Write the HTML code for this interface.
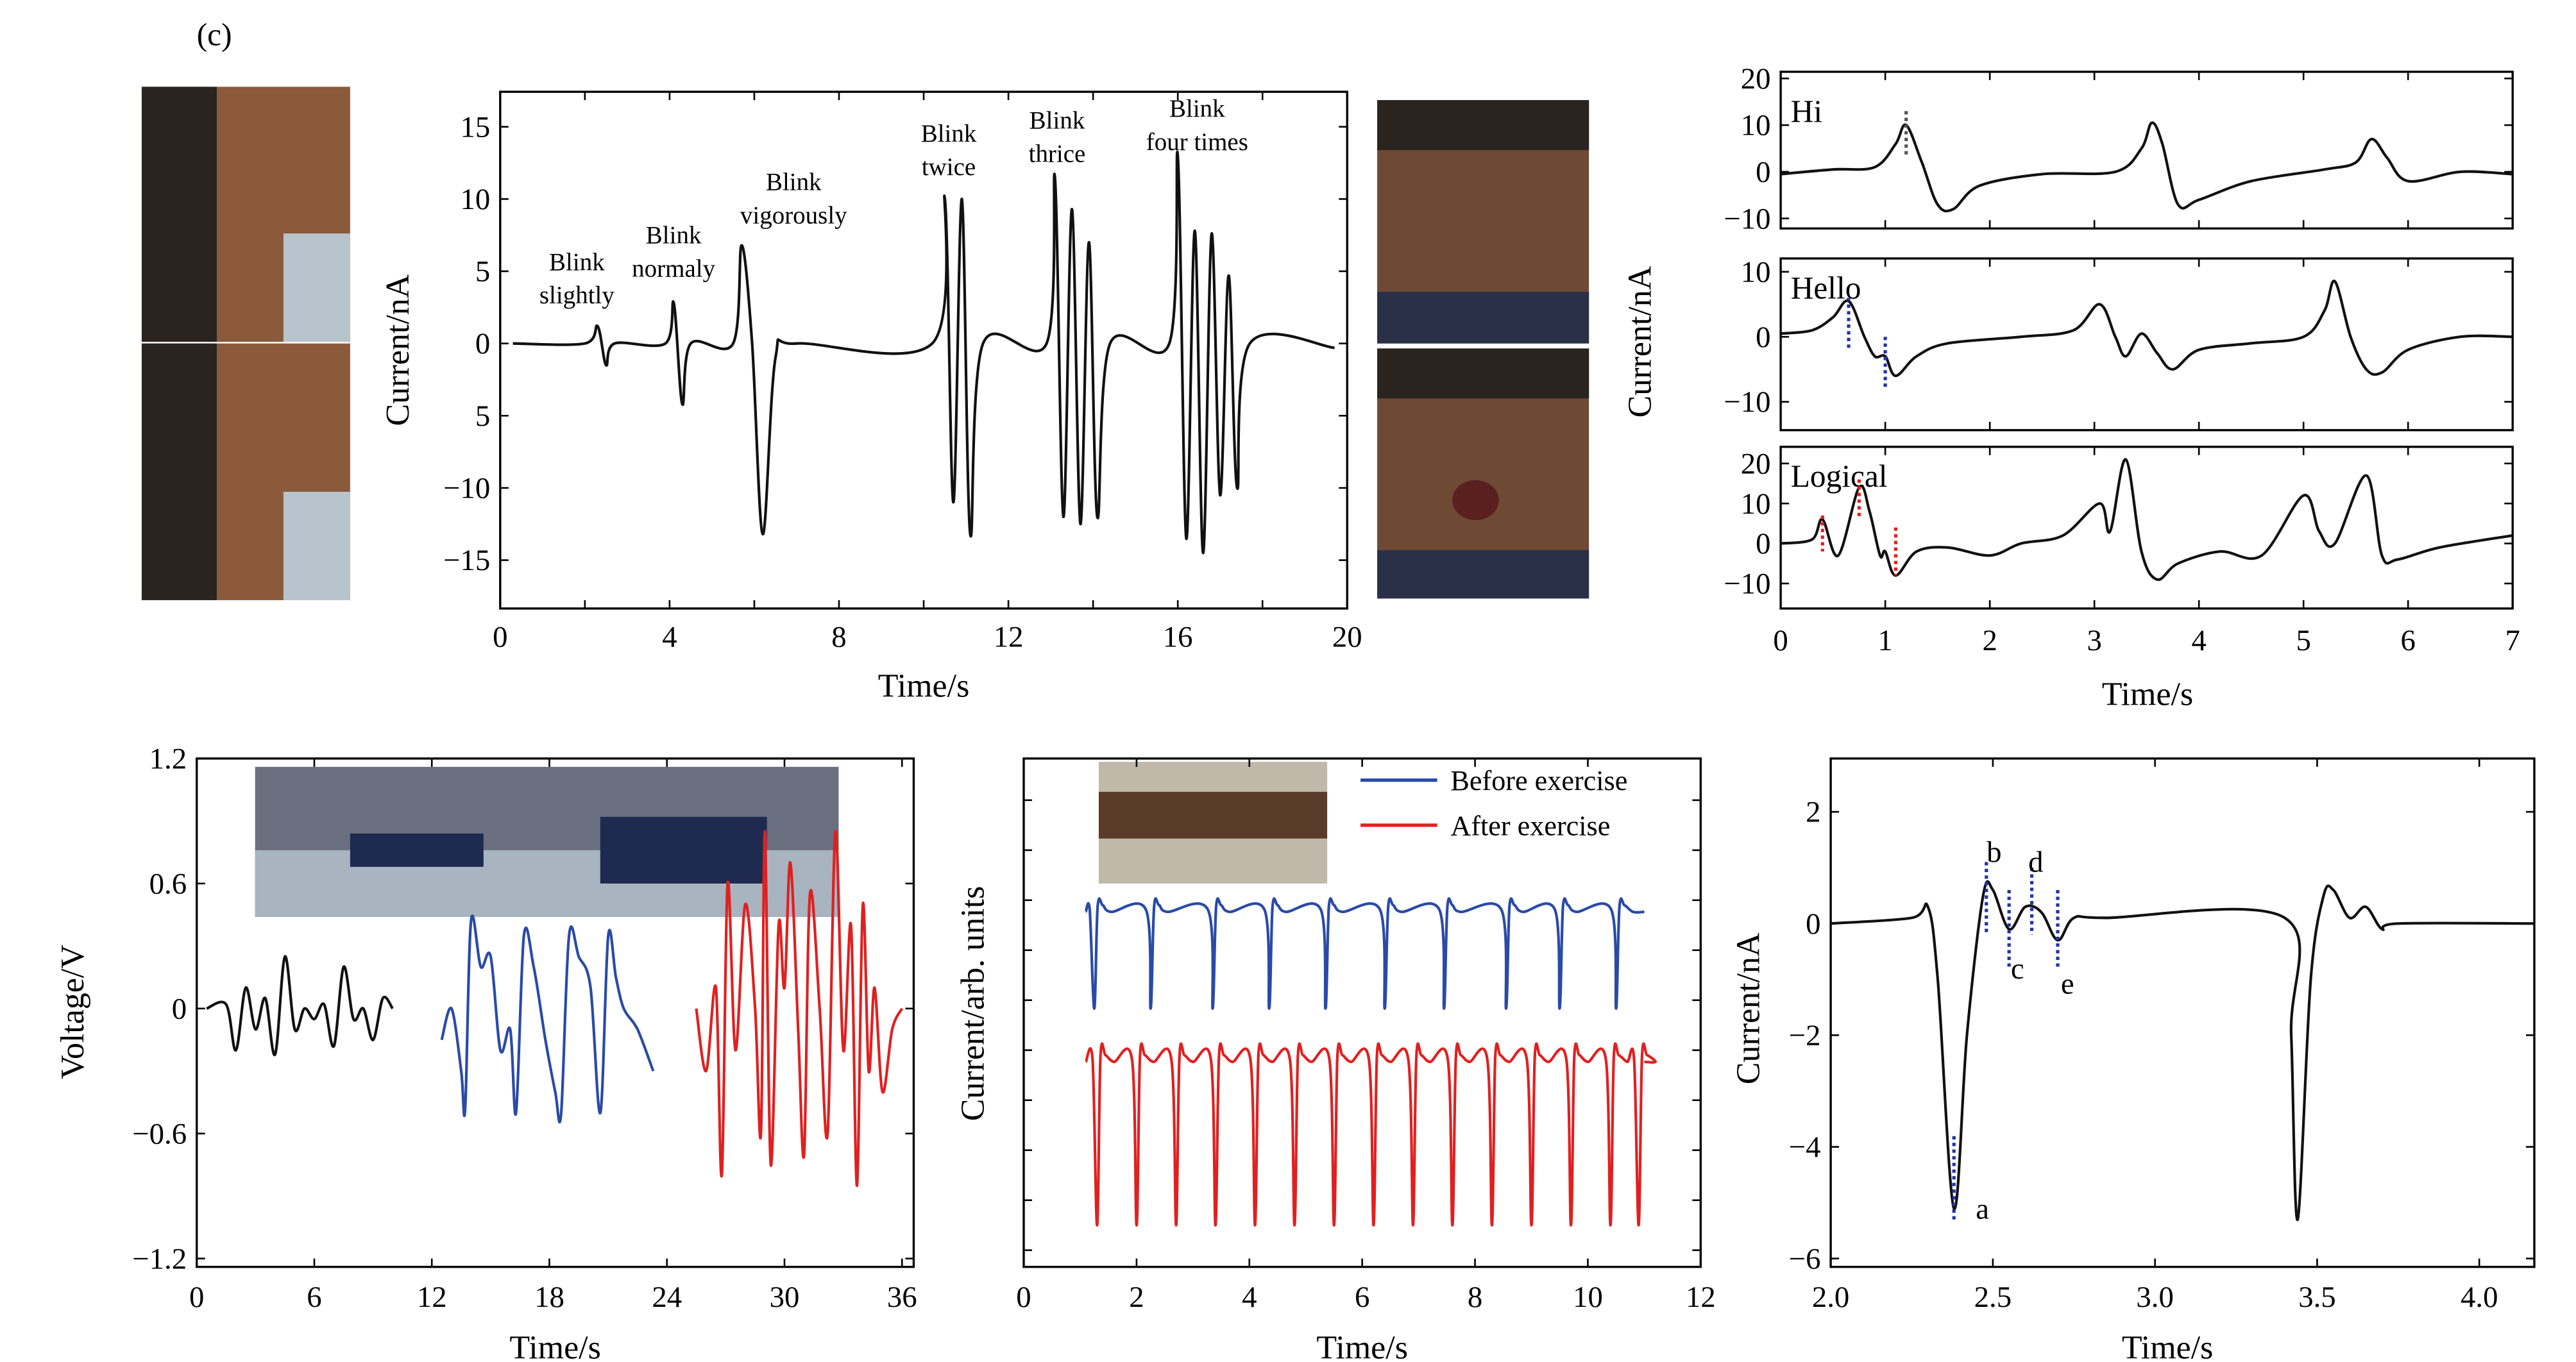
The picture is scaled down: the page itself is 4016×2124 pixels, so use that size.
<!DOCTYPE html>
<html><head><meta charset="utf-8"><style>
html,body{margin:0;padding:0;background:#fff;}
svg{display:block;font-family:"Liberation Serif",serif;}
</style></head><body>
<svg id="fig" width="4016" height="2124" viewBox="0 0 1545 817" xmlns="http://www.w3.org/2000/svg">
<text x="118" y="27" font-size="19">(c)</text>
<g>
<rect x="85" y="52" width="125" height="153" fill="#8a5a3a"/>
<rect x="85" y="52" width="45" height="153" fill="#2a2420"/>
<rect x="170" y="140" width="40" height="65" fill="#b8c4cc"/>
<rect x="85" y="206" width="125" height="154" fill="#8a5a3a"/>
<rect x="85" y="206" width="45" height="154" fill="#2a2420"/>
<rect x="170" y="295" width="40" height="65" fill="#b8c4cc"/>
<rect x="826" y="60" width="127" height="146" fill="#6e4a35"/>
<rect x="826" y="60" width="127" height="30" fill="#2a2420"/>
<rect x="826" y="175" width="127" height="31" fill="#2a3048"/>
<rect x="826" y="209" width="127" height="150" fill="#6e4a35"/>
<rect x="826" y="209" width="127" height="30" fill="#2a2420"/>
<rect x="826" y="330" width="127" height="29" fill="#2a3048"/>
<ellipse cx="885" cy="300" rx="14" ry="12" fill="#5a2020"/>
<rect x="153" y="460" width="350" height="90" fill="#6a6f80"/>
<rect x="153" y="510" width="350" height="40" fill="#a8b4c0"/>
<rect x="210" y="500" width="80" height="20" fill="#1e2a50"/>
<rect x="360" y="490" width="100" height="40" fill="#1e2a50"/>
<rect x="659" y="457" width="137" height="73" fill="#c0b8a8"/>
<rect x="659" y="475" width="137" height="28" fill="#5a3a28"/>
</g>
<g id="charts"></g>
</svg>
<script>
const blinkT=[0.3,2.0,2.3,2.5,2.7,3.9,4.1,4.3,4.5,5.5,5.7,5.95,6.2,6.5,7,10.2,10.5,10.7,10.9,11.1,11.4,12.9,13.1,13.3,13.5,13.7,13.9,14.1,14.4,15.8,16.0,16.2,16.4,16.6,16.8,17.0,17.2,17.4,17.7,19.7];
const blinkV=[0,0,1.2,-1.5,0,0,2.8,-4.2,0,0,6.8,0,-13.2,-1,0,0,10,-11,10,-13.2,0,0,11.5,-12,9.3,-12.5,7,-12,0,0,13,-13.5,7.8,-14.5,7.6,-10.5,4.7,-10,0,-0.3];
const blinkLabels=[["Blink",346,162],["slightly",346,182],["Blink",404,146],["normaly",404,166],["Blink",476,114],["vigorously",476,134],["Blink",569,85],["twice",569,105],["Blink",634,77],["thrice",634,97],["Blink",718,70],["four times",718,90]];
const hiT=[0,0.5,0.9,1.1,1.2,1.35,1.5,1.65,1.9,2.5,3.2,3.45,3.55,3.65,3.8,4.0,4.5,5.2,5.5,5.65,5.8,6.0,6.5,7];
const hiV=[-0.5,0.5,1,6,10,2,-7,-8,-3,-0.5,0,5,10.5,6,-7,-6,-2,0.5,2,7,3,-2,0,-0.5];
const helloT=[0,0.3,0.5,0.65,0.8,0.9,1.0,1.1,1.3,1.6,2.3,2.8,3.05,3.2,3.3,3.45,3.6,3.75,4.0,4.5,5.0,5.2,5.3,5.45,5.6,5.75,6.0,6.5,7];
const helloV=[0.5,1,3,5.5,0,-3,-3,-6,-3,-1,0,1,5,0,-3,0.5,-2.5,-5,-2,-1,0,4,8.5,0,-5,-5.5,-2,0,0];
const logT=[0,0.3,0.4,0.55,0.75,0.85,0.95,1.0,1.1,1.3,1.6,2.0,2.3,2.7,3.05,3.15,3.3,3.45,3.6,3.8,4.2,4.6,5.0,5.15,5.3,5.6,5.75,5.9,6.3,7];
const logV=[0,1,6,-3,14,8,-3,-2,-8,-2,-1,-3,0,2,10,3,21,-2,-9,-5,-2,-3,12,3,0,17,-3,-4,-1,2];
const armBlackT=[0.5,1.5,2,2.5,3,3.5,4,4.5,5,5.5,6,6.5,7,7.5,8,8.5,9,9.5,10];
const armBlackV=[0,0.02,-0.2,0.1,-0.1,0.05,-0.22,0.25,-0.1,0,-0.05,0.02,-0.18,0.2,-0.05,0,-0.15,0.05,0];
const armBlueT=[12.5,13,13.5,13.7,14,14.5,15,15.5,16,16.3,16.7,17.2,17.8,18.3,18.6,19,19.5,20.1,20.6,21,21.4,21.8,22.5,23.3];
const armBlueV=[-0.15,0,-0.3,-0.48,0.42,0.2,0.25,-0.2,-0.1,-0.5,0.35,0.2,-0.15,-0.4,-0.5,0.35,0.25,0.1,-0.5,0.35,0.15,0.0,-0.1,-0.3];
const armRedT=[25.5,26,26.5,26.8,27.1,27.5,28,28.5,28.8,29,29.3,29.7,30,30.3,30.7,31,31.3,31.8,32.2,32.6,33,33.4,33.7,34,34.3,34.6,35,35.5,36];
const armRedV=[0,-0.3,0.1,-0.8,0.6,-0.2,0.5,0,-0.6,0.85,-0.75,0.4,0.1,0.7,-0.1,-0.7,0.55,0,-0.6,0.85,-0.2,0.4,-0.85,0.5,-0.3,0.1,-0.4,-0.1,0];
const beforeSpikes=[1.25,2.25,3.35,4.35,5.35,6.4,7.45,8.55,9.5,10.5];
const afterSpikes=[1.3,2.0,2.7,3.4,4.1,4.8,5.5,6.2,6.9,7.6,8.3,9.0,9.7,10.4,10.9];
const ecgT=[2.0,2.25,2.3,2.33,2.38,2.42,2.47,2.5,2.55,2.6,2.65,2.7,2.75,2.85,3.4,3.42,3.44,3.48,3.52,3.55,3.6,3.65,3.7,3.75,4.17];
const ecgV=[0,0.1,0.3,-1,-5.1,-2,0.5,0.6,-0.1,0.3,0.2,-0.3,0.1,0.1,0.1,-2,-5.3,-1,0.5,0.6,0.1,0.3,-0.1,0,0];
const NS="http://www.w3.org/2000/svg";
const root=document.getElementById('charts');
function mk(tag,attrs,parent){const e=document.createElementNS(NS,tag);for(const k in attrs)e.setAttribute(k,attrs[k]);(parent||root).appendChild(e);return e;}
function lin(d0,d1,r0,r1){return v=>r0+(v-d0)*(r1-r0)/(d1-d0);}
function line(xs,ys,X,Y,color,w,name){
  const P=xs.map((t,i)=>[X(t),Y(ys[i])]);
  let d='M'+P[0][0].toFixed(1)+','+P[0][1].toFixed(1);
  for(let i=0;i<P.length-1;i++){
    const p0=P[Math.max(0,i-1)],p1=P[i],p2=P[i+1],p3=P[Math.min(P.length-1,i+2)];
    const c1x=p1[0]+(p2[0]-p0[0])/6,c1y=p1[1]+(p2[1]-p0[1])/6;
    const c2x=p2[0]-(p3[0]-p1[0])/6,c2y=p2[1]-(p3[1]-p1[1])/6;
    d+='C'+c1x.toFixed(1)+','+c1y.toFixed(1)+' '+c2x.toFixed(1)+','+c2y.toFixed(1)+' '+p2[0].toFixed(1)+','+p2[1].toFixed(1);
  }
  const p=mk('path',{d:d,fill:'none',stroke:color,'stroke-width':w||1.6,'stroke-linejoin':'round'});
  
  
  return p;
}
function txt(s,x,y,size,anchor,name,extra){
  const t=mk('text',Object.assign({x:x,y:y,'font-size':size,'text-anchor':anchor||'middle'},extra||{}));
  t.textContent=s;
  
  
  return t;
}
function frame(x0,y0,x1,y1,name){
  const r=mk('rect',{x:x0,y:y0,width:x1-x0,height:y1-y0,fill:'none',stroke:'#000','stroke-width':1.3});
  
  
}
function xticks(vals,labels,X,y0,y1,labY,name){
  vals.forEach((v,i)=>{mk('line',{x1:X(v),x2:X(v),y1:y1,y2:y1-5,stroke:'#000'});mk('line',{x1:X(v),x2:X(v),y1:y0,y2:y0+5,stroke:'#000'});
    if(labels)txt(labels[i],X(v),labY,18,'middle',name);});
}
function yticks(vals,labels,Y,x0,x1,name){
  vals.forEach((v,i)=>{mk('line',{x1:x0,x2:x0+5,y1:Y(v),y2:Y(v),stroke:'#000'});mk('line',{x1:x1,x2:x1-5,y1:Y(v),y2:Y(v),stroke:'#000'});
    if(labels)txt(labels[i],x0-6,Y(v)+6,18,'end',name);});
}
function vlabel(s,x,y,name){txt(s,x,y,20,'middle',name,{transform:'rotate(-90 '+x+' '+y+')'});}
{const X=lin(0,20,300,808),Y=lin(0,-15,206,336);
frame(300,55,808,365,'blink-plot-frame');
xticks([0,4,8,12,16,20],['0','4','8','12','16','20'],X,55,365,388,'blink-x-tick');
xticks([2,6,10,14,18],null,X,55,365,0,'');
yticks([15,10,5,0,-5,-10,-15],['15','10','5','0','5','−10','−15'],Y,300,808,'blink-y-tick');
line(blinkT,blinkV,X,Y,'#111',1.6,'blink-signal');
blinkLabels.forEach(l=>txt(l[0],l[1],l[2],15,'middle','blink-annotation'));
txt('Time/s',554,418,20,'middle','blink-x-axis-title');vlabel('Current/nA',245,210,'blink-y-axis-title');}
{const X=lin(0,7,1068,1507);
const subs=[[43,137,lin(0,-10,103,131),hiT,hiV,[20,10,0,-10],['20','10','0','−10'],'Hi'],[155,258,lin(0,-10,202,241),helloT,helloV,[10,0,-10],['10','0','−10'],'Hello'],[268,365,lin(0,-10,326,350),logT,logV,[20,10,0,-10],['20','10','0','−10'],'Logical']];
subs.forEach((s,k)=>{frame(1068,s[0],1507,s[1],'speech-frame-'+s[7].toLowerCase());
 xticks([0,1,2,3,4,5,6,7],k==2?['0','1','2','3','4','5','6','7']:null,X,s[0],s[1],390,'speech-x-tick');
 yticks(s[5],s[6],s[2],1068,1507,'speech-y-tick');
 line(s[3],s[4],X,s[2],'#111',1.6,'speech-signal-'+s[7].toLowerCase());
 txt(s[7],1074,s[0]+(k==0?30:24),19,'start','speech-word-label');});
const dash=(t,v0,v1,Y,c)=>mk('line',{x1:X(t),x2:X(t),y1:Y(v0),y2:Y(v1),stroke:c,'stroke-width':2,'stroke-dasharray':'2,2'});
dash(1.2,13,3,subs[0][2],'#555');dash(0.65,6,-2,subs[1][2],'#2233aa');dash(1.0,0,-8,subs[1][2],'#2233aa');
dash(0.4,7,-2,subs[2][2],'#e02020');dash(0.75,16,6,subs[2][2],'#e02020');dash(1.1,4,-8,subs[2][2],'#e02020');
txt('Time/s',1288,423,20,'middle','speech-x-axis-title');vlabel('Current/nA',990,205,'speech-y-axis-title');}
{const X=lin(0,36,118,541),Y=lin(0,0.6,605,530);
frame(118,455,548,760,'arm-plot-frame');
xticks([0,6,12,18,24,30,36],['0','6','12','18','24','30','36'],X,455,760,784,'arm-x-tick');
yticks([1.2,0.6,0,-0.6,-1.2],['1.2','0.6','0','−0.6','−1.2'],Y,118,548,'arm-y-tick');
line(armBlackT,armBlackV,X,Y,'#111',1.6,'arm-signal-rest');
line(armBlueT,armBlueV,X,Y,'#2a4aa8',1.6,'arm-signal-bend');
line(armRedT,armRedV,X,Y,'#e02020',1.6,'arm-signal-raise');
txt('Time/s',333,815,20,'middle','arm-x-axis-title');vlabel('Voltage/V',50,607,'arm-y-axis-title');}
{const X=lin(0,12,614,1020);
frame(614,455,1020,760,'pulse-plot-frame');
xticks([0,2,4,6,8,10,12],['0','2','4','6','8','10','12'],X,455,760,784,'pulse-x-tick');
[480,510,540,570,600,630,660,690,720,750].forEach(y=>{mk('line',{x1:614,x2:619,y1:y,y2:y,stroke:'#000'});mk('line',{x1:1020,x2:1015,y1:y,y2:y,stroke:'#000'});});
const Yb=v=>547+v, Yr=v=>637+v;
function pulse(spikes,t0,t1,depth,Yf,col,name){const ts=[t0],vs=[0];spikes.forEach(s=>{ts.push(s-0.08,s,s+0.06,s+0.15,s+0.3);vs.push(-1,depth,-3,-4,0);});ts.push(t1);vs.push(0);line(ts,vs,X,Yf,col,1.6,name);}
pulse(beforeSpikes,1.1,11.0,58,Yb,'#2a4aa8','before-exercise-line');
pulse(afterSpikes,1.1,11.0,98,Yr,'#e02020','after-exercise-line');
mk('line',{x1:816,x2:862,y1:468,y2:468,stroke:'#2a4aa8','stroke-width':2});
txt('Before exercise',870,474,17,'start','legend-before');
mk('line',{x1:816,x2:862,y1:495,y2:495,stroke:'#e02020','stroke-width':2});
txt('After exercise',870,501,17,'start','legend-after');
txt('Time/s',817,815,20,'middle','pulse-x-axis-title');vlabel('Current/arb. units',590,602,'pulse-y-axis-title');}
{const X=lin(2,4,1098,1487),Y=lin(0,-2,554,621);
frame(1098,455,1520,760,'ecg-plot-frame');
xticks([2,2.5,3,3.5,4],['2.0','2.5','3.0','3.5','4.0'],X,455,760,784,'ecg-x-tick');
yticks([2,0,-2,-4,-6],['2','0','−2','−4','−6'],Y,1098,1520,'ecg-y-tick');
line(ecgT,ecgV,X,Y,'#111',1.6,'ecg-signal');
[[2.38,-5.3,-3.8],[2.48,1.1,-0.2],[2.55,0.6,-0.8],[2.62,1.0,-0.2],[2.7,0.6,-0.8]].forEach(d=>mk('line',{x1:X(d[0]),x2:X(d[0]),y1:Y(d[1]),y2:Y(d[2]),stroke:'#2233aa','stroke-width':2,'stroke-dasharray':'2,2'}));
[['a',1189,731],['b',1196,517],['c',1210,587],['d',1221,523],['e',1240,596]].forEach(l=>txt(l[0],l[1],l[2],18,'middle','ecg-wave-label'));
txt('Time/s',1300,815,20,'middle','ecg-x-axis-title');vlabel('Current/nA',1055,605,'ecg-y-axis-title');}
</script>
</body></html>
